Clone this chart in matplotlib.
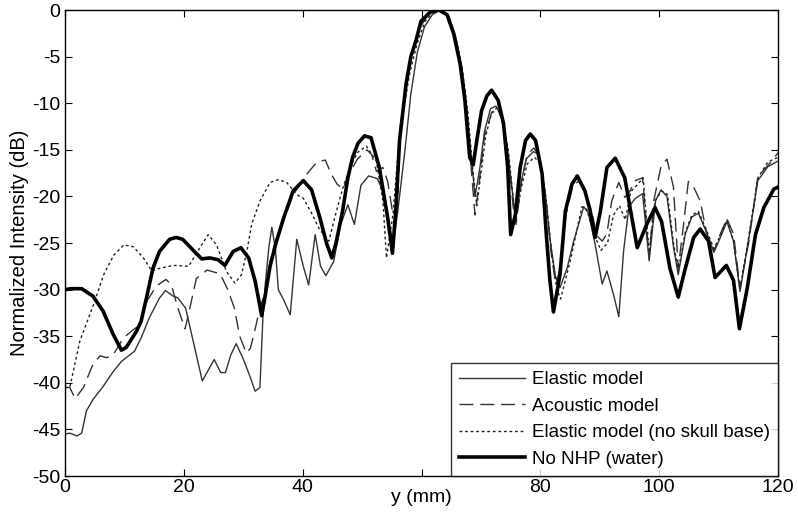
import matplotlib
matplotlib.use('Agg')
import matplotlib.pyplot as plt

# No NHP (water) - thick
x_water = [0, 1, 2.8, 4.7, 6.4, 8.1, 9.5, 10.3, 12.0, 12.8, 13.7, 14.8, 15.9, 17.6, 18.7, 19.8,
           21.6, 23.0, 24.4, 25.8, 26.9, 28.3, 29.6, 30.9, 32.0, 33.1, 33.7, 34.5, 35.5, 36.8,
           38.4, 40.1, 41.5, 42.9, 44.0, 44.9, 45.6, 46.7, 47.6, 48.4, 49.3, 50.4, 51.5, 52.9,
           54.3, 55.1, 55.7, 56.3, 57.4, 58.2, 59.1, 59.9, 61.5, 62.9, 64.3, 65.4, 66.5, 67.3,
           68.1, 68.7, 69.3, 70.1, 71.0, 71.8, 72.9, 73.8, 74.5, 75.0, 75.8, 76.6, 77.5, 78.3,
           79.2, 80.3, 81.0, 81.6, 82.2, 83.3, 84.2, 85.3, 86.2, 87.5, 88.4, 89.2, 90.1, 91.2,
           92.6, 94.2, 95.4, 96.3, 97.9, 99.3, 100.4, 101.8, 103.2, 104.4, 105.8, 106.9, 108.3,
           109.4, 111.3, 112.5, 113.5, 114.8, 116.2, 117.6, 119.3, 120]
y_water = [-30.0, -29.9, -29.9, -30.7, -32.3, -34.8, -36.5, -36.2, -34.5, -33.4, -30.9, -27.7, -25.9,
           -24.6, -24.4, -24.6, -25.8, -26.7, -26.6, -26.8, -27.4, -25.9, -25.5, -26.6, -29.1,
           -32.8, -30.6, -27.5, -25.0, -22.3, -19.4, -18.3, -19.3, -22.3, -25.0, -26.6, -25.0,
           -21.6, -18.0, -15.8, -14.3, -13.5, -13.7, -16.9, -22.3, -26.1, -21.2, -14.0, -7.9,
           -5.0, -3.2, -1.2, -0.2, 0.0, -0.5, -2.5, -5.8, -9.7, -15.8, -16.6, -14.0, -10.8, -9.2,
           -8.6, -9.7, -12.2, -16.9, -24.1, -21.9, -16.9, -14.0, -13.3, -14.0, -17.6, -24.1,
           -29.0, -32.4, -28.4, -21.6, -18.7, -17.8, -19.4, -21.6, -24.4, -21.6, -16.9, -15.9,
           -18.0, -22.3, -25.5, -23.0, -21.2, -22.7, -27.7, -30.8, -27.7, -24.4, -23.5, -24.8,
           -28.7, -27.4, -29.0, -34.2, -29.9, -24.1, -21.2, -19.2, -19.0]

# Elastic model - thin solid
x_elastic = [0, 0.8, 2.0, 2.8, 3.6, 4.7, 6.4, 8.1, 9.5, 10.9, 11.7, 12.8, 14.2, 15.9, 16.9, 18.2,
             19.0, 20.3, 21.7, 23.1, 25.1, 26.2, 27.0, 27.9, 28.8, 29.9, 31.0, 32.0, 32.8, 33.3,
             33.7, 34.3, 34.8, 35.4, 35.9, 36.8, 37.9, 39.0, 40.1, 41.0, 42.1, 43.0, 43.9, 45.2,
             46.4, 47.6, 48.7, 49.8, 51.1, 52.6, 53.7, 54.7, 55.2, 56.0, 57.2, 58.2, 59.3, 60.5,
             61.8, 63.2, 64.6, 65.7, 66.8, 67.6, 68.4, 69.0, 69.8, 70.6, 71.6, 72.5, 73.5, 74.4,
             75.2, 75.8, 76.6, 77.6, 78.8, 79.8, 80.8, 81.6, 82.5, 83.3, 84.5, 85.6, 87.3, 88.1,
             89.2, 90.4, 91.2, 92.3, 93.2, 94.0, 94.9, 96.0, 97.2, 98.3, 99.4, 100.3, 101.3, 102.4,
             103.2, 104.4, 105.5, 106.6, 107.8, 109.2, 110.3, 111.4, 112.5, 113.6, 115.1, 116.6,
             118.3, 120]
y_elastic = [-45.5, -45.4, -45.7, -45.4, -43.0, -41.8, -40.4, -38.8, -37.7, -37.0, -36.6, -35.2, -33.0,
             -30.9, -30.1, -30.7, -30.9, -32.0, -35.9, -39.8, -37.5, -38.9, -38.9, -37.0, -35.8,
             -37.3, -39.1, -40.9, -40.5, -33.0, -29.4, -25.5, -23.3, -25.6, -30.0, -31.1, -32.7,
             -24.6, -27.5, -29.5, -24.1, -27.5, -28.5, -27.0, -23.0, -20.9, -23.0, -18.8, -17.8,
             -18.1, -19.8, -23.4, -25.3, -21.6, -15.1, -9.0, -4.5, -1.8, -0.5, 0.0, -0.7, -2.8,
             -6.2, -10.5, -16.0, -20.0, -17.0, -13.0, -10.6, -10.3, -11.5, -14.5, -19.0, -22.5,
             -19.0, -16.0, -15.2, -15.5, -19.5, -24.5, -28.5, -29.8, -27.7, -24.8, -21.1, -21.8,
             -25.1, -29.4, -28.0, -30.5, -32.9, -25.9, -21.1, -20.2, -19.7, -26.9, -20.4, -19.3,
             -20.0, -25.4, -28.4, -24.0, -22.2, -21.8, -23.6, -26.0, -24.4, -22.7, -24.8, -30.2,
             -24.4, -18.3, -16.8, -16.2]

# Acoustic model - dashed
x_acoustic = [0, 0.8, 1.7, 3.1, 4.7, 5.9, 7.0, 8.1, 9.8, 11.5, 12.6, 13.7, 15.4, 17.0, 17.9, 19.0,
              20.2, 21.0, 22.1, 23.9, 26.1, 27.4, 28.5, 29.4, 30.5, 31.2, 32.0, 32.8, 33.7, 34.5,
              35.4, 36.8, 38.4, 39.8, 40.7, 42.4, 43.8, 44.8, 45.8, 46.8, 47.6, 49.2, 50.8, 51.6,
              52.4, 53.5, 54.3, 55.2, 56.0, 56.4, 57.5, 58.6, 59.8, 61.2, 62.8, 64.2, 65.4, 66.6,
              67.5, 68.3, 69.0, 69.7, 70.6, 71.8, 72.8, 73.8, 74.6, 75.4, 75.9, 76.8, 77.8, 78.9,
              79.9, 80.9, 81.8, 82.6, 83.4, 84.3, 85.4, 86.5, 87.6, 88.6, 89.5, 90.4, 91.2, 92.0,
              93.2, 94.2, 95.0, 96.0, 97.2, 98.3, 99.1, 100.3, 101.3, 102.4, 103.2, 104.1, 104.9,
              105.8, 106.9, 108.0, 109.2, 110.3, 111.4, 112.5, 113.6, 115.1, 116.6, 118.8, 120]
y_acoustic = [-40.5, -40.5, -41.7, -40.5, -38.0, -37.1, -37.3, -37.0, -35.2, -34.3, -33.8, -31.3, -29.6,
              -28.9, -29.5, -32.0, -34.2, -32.0, -28.8, -27.9, -28.3, -30.0, -32.0, -35.0, -36.8,
              -36.3, -34.2, -32.0, -30.2, -27.0, -24.8, -22.5, -19.8, -18.5, -17.6, -16.3, -16.1,
              -17.6, -18.7, -19.2, -17.8, -16.0, -15.0, -15.5, -17.3, -16.9, -18.4, -22.0, -20.5,
              -12.6, -7.5, -4.0, -1.8, -0.4, 0.0, -0.6, -2.6, -6.0, -10.5, -16.5, -22.0, -18.5,
              -13.5, -11.0, -10.8, -12.0, -15.5, -21.0, -23.0, -18.5, -15.5, -14.8, -15.8, -20.0,
              -26.0, -29.5, -27.5, -22.0, -19.0, -18.3, -19.8, -21.5, -24.2, -24.8, -24.0, -20.5,
              -18.5, -20.1, -19.5, -18.3, -18.0, -26.6, -20.4, -16.8, -16.0, -19.0, -27.7, -23.0,
              -18.4, -19.0, -20.5, -24.0, -25.9, -24.0, -22.4, -24.0, -29.8, -24.8, -17.9, -16.3,
              -15.3]

# Elastic model (no skull base) - dotted
x_noskull = [0, 0.8, 2.5, 4.8, 6.5, 8.2, 9.9, 11.5, 13.2, 14.6, 16.0, 18.3, 20.8, 22.5, 24.1, 25.5,
             27.2, 28.6, 29.7, 30.6, 31.4, 32.8, 34.5, 35.9, 37.3, 39.0, 40.1, 41.5, 42.8, 44.4,
             45.5, 46.7, 48.0, 49.2, 50.7, 52.4, 53.5, 54.1, 55.2, 56.3, 58.0, 59.3, 60.6, 62.0,
             63.2, 64.6, 65.8, 66.9, 67.8, 68.6, 69.3, 70.0, 70.8, 71.8, 72.7, 73.7, 74.6, 75.3,
             75.9, 76.8, 77.8, 79.0, 80.0, 81.0, 81.9, 82.8, 83.4, 85.0, 87.0, 87.8, 89.0, 90.2,
             91.3, 92.3, 93.3, 94.3, 95.2, 96.4, 97.3, 98.3, 99.3, 100.4, 101.4, 102.4, 103.2,
             104.4, 105.5, 106.6, 107.8, 109.2, 110.3, 111.4, 112.5, 113.6, 115.1, 116.6, 118.3,
             120]
y_noskull = [-40.5, -40.5, -35.5, -31.6, -28.4, -26.3, -25.2, -25.4, -26.6, -28.0, -27.7, -27.4, -27.5,
             -25.7, -24.1, -25.2, -28.1, -29.3, -28.4, -25.9, -23.0, -20.5, -18.5, -18.2, -18.5,
             -19.8, -20.2, -21.8, -23.5, -24.8, -22.0, -19.2, -16.8, -15.3, -14.6, -16.2, -20.5,
             -26.6, -21.9, -13.3, -6.8, -3.5, -1.2, -0.2, 0.0, -0.8, -3.0, -6.5, -11.0, -17.0,
             -21.0, -17.5, -13.5, -11.0, -10.5, -11.8, -15.0, -19.5, -22.5, -19.0, -16.5, -15.8,
             -16.5, -20.5, -26.0, -30.0, -31.0, -27.0, -21.1, -21.4, -24.0, -25.8, -25.0, -22.0,
             -21.0, -22.5, -19.5, -18.7, -18.0, -26.0, -20.5, -19.4, -19.8, -25.0, -28.0, -23.8,
             -22.0, -21.6, -23.4, -25.6, -24.2, -22.5, -24.8, -30.0, -24.2, -18.0, -16.3, -15.8]

x_ticks = [0, 20, 40, 60, 80, 100, 120]
x_ticklabels = ['0', '20', '40', '', '80', '100', '120']   # "60" sits under the axis title
y_ticks = list(range(-50, 1, 5))

plt.rcParams['font.family'] = ['Liberation Sans', 'DejaVu Sans']
plt.rcParams['axes.unicode_minus'] = False

fig = plt.figure(figsize=(7.98, 5.25), dpi=100)
ax = fig.add_axes([0.0815, 0.0933, 0.8935, 0.8876])

ax.plot(x_elastic, y_elastic, color='#333333', lw=1.0, ls='-', label='Elastic model')
ax.plot(x_acoustic, y_acoustic, color='#333333', lw=1.0, ls=(0, (10, 5)), label='Acoustic model')
ax.plot(x_noskull, y_noskull, color='#222222', lw=1.0, ls=(0, (2, 2)),
        label='Elastic model (no skull base)')
ax.plot(x_water, y_water, color='black', lw=2.6, ls='-', label='No NHP (water)')

ax.set_xlim(0, 120)
ax.set_ylim(-50, 0)
ax.set_xticks(x_ticks)
ax.set_xticklabels(x_ticklabels)
ax.set_yticks(y_ticks)
ax.tick_params(direction='in', labelsize=14, length=5, top=True, right=True,
               labeltop=False, labelright=False)
ax.tick_params(axis='x', pad=2)
for s in ax.spines.values():
    s.set_linewidth(1.0)

ax.set_xlabel('y (mm)', fontsize=14)
ax.xaxis.set_label_coords(0.5, -0.027, transform=ax.transAxes)
ax.xaxis.label.set_va('top')
ax.set_ylabel('Normalized Intensity (dB)', fontsize=14.5, labelpad=2)

leg = ax.legend(loc='lower right', fontsize=13.5, frameon=True, fancybox=False,
                edgecolor='black', borderaxespad=0, handlelength=3.5,
                handletextpad=0.35, labelspacing=0.5, borderpad=0.45)
leg.get_frame().set_linewidth(1.0)

fig.savefig('out.png', dpi=100)
